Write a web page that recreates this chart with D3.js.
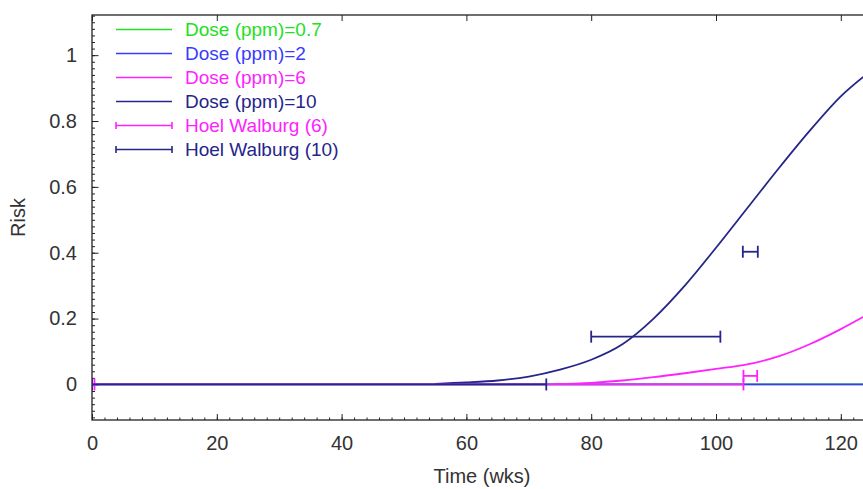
<!DOCTYPE html>
<html>
<head>
<meta charset="utf-8">
<script src="https://cdn.jsdelivr.net/npm/d3@7"></script>
<style>
  html, body { margin: 0; padding: 0; background: #fff; }
  svg { display: block; font-family: "Liberation Sans", Arial, sans-serif; }
</style>
</head>
<body>
<svg id="chart" width="863" height="489"></svg>
<script>
// ---------- data ----------
const xTicks = [0, 20, 40, 60, 80, 100, 120];
const yTicks = [0, 0.2, 0.4, 0.6, 0.8, 1];
const yTickLabels = ["0", "0.2", "0.4", "0.6", "0.8", "1"];

const seriesNames = ["Dose (ppm)=0.7", "Dose (ppm)=2", "Dose (ppm)=6", "Dose (ppm)=10"];

const weeks07 = [0, 125];
const risk07  = [0, 0];

const weeks2 = [0, 125];
const risk2  = [0, 0];

const weeks6 = [74, 80, 85, 90, 95, 100, 105, 110, 115, 120, 125];
const risk6  = [0.001, 0.005, 0.012, 0.022, 0.034, 0.047, 0.061, 0.085, 0.122, 0.168, 0.22];

const weeks10 = [55, 60, 65, 70, 75, 80, 85, 90, 95, 100, 105, 110, 115, 120, 125];
const risk10  = [0.002, 0.006, 0.012, 0.024, 0.045, 0.075, 0.122, 0.2, 0.3, 0.415, 0.535, 0.655, 0.77, 0.875, 0.955];

// Hoel Walburg interval estimates (risk level, lower week, upper week)
const hw6Name = "Hoel Walburg (6)";
const hw6Risk = [0, 0.026];
const hw6Lo   = [0.4, 104.4];
const hw6Hi   = [104.4, 106.6];

const hw10Name = "Hoel Walburg (10)";
const hw10Risk = [0, 0.145, 0.403];
const hw10Lo   = [0, 80, 104.3];
const hw10Hi   = [72.8, 100.7, 106.7];

// ---------- setup ----------
const colGreen = "#22e022", colBlue = "#3a3aff", colPink = "#ff22ff", colNavy = "#25258a";

const svg = d3.select("#chart");
const pLeft = 92, pTop = 15, pRight = 872, pBottom = 420;

const x = d3.scaleLinear().domain([0, 125]).range([pLeft, pRight]);
const y = d3.scaleLinear().domain([-0.108, 1.122]).range([pBottom, pTop]);

svg.append("rect").attr("width", 863).attr("height", 489).attr("fill", "#fff");

svg.append("defs").append("clipPath").attr("id", "plotclip")
  .append("rect").attr("x", pLeft).attr("y", pTop).attr("width", pRight - pLeft).attr("height", pBottom - pTop);

// ---------- axes ----------
const axisColor = "#222";
const textColor = "#333";

const xMinor = d3.range(0, 125, 2);
const yMinor = d3.range(-0.1, 1.121, 0.02);

svg.append("g").attr("transform", `translate(0,${pBottom})`)
  .call(d3.axisBottom(x).tickValues(xMinor).tickSize(-2.5).tickFormat(""))
  .call(g => g.select(".domain").remove())
  .call(g => g.selectAll("line").attr("stroke", axisColor));

svg.append("g").attr("transform", `translate(0,${pBottom})`)
  .call(d3.axisBottom(x).tickValues(xTicks).tickSize(-6).tickPadding(16).tickFormat(d3.format("d")))
  .call(g => g.select(".domain").remove())
  .call(g => g.selectAll("line").attr("stroke", axisColor))
  .call(g => g.selectAll("text").attr("fill", textColor).attr("font-size", 20)
      .attr("font-family", "'Liberation Sans', Arial, sans-serif"));

svg.append("g").attr("transform", `translate(0,${pTop})`)
  .call(d3.axisTop(x).tickValues(xTicks).tickSize(-6).tickFormat(""))
  .call(g => g.select(".domain").remove())
  .call(g => g.selectAll("line").attr("stroke", axisColor));

svg.append("g").attr("transform", `translate(${pLeft},0)`)
  .call(d3.axisLeft(y).tickValues(yMinor).tickSize(-3).tickFormat(""))
  .call(g => g.select(".domain").remove())
  .call(g => g.selectAll("line").attr("stroke", axisColor));

svg.append("g").attr("transform", `translate(${pLeft},0)`)
  .call(d3.axisLeft(y).tickValues(yTicks).tickSize(-6.5).tickPadding(15)
        .tickFormat((d, i) => yTickLabels[i]))
  .call(g => g.select(".domain").remove())
  .call(g => g.selectAll("line").attr("stroke", axisColor))
  .call(g => g.selectAll("text").attr("fill", textColor).attr("font-size", 20)
      .attr("font-family", "'Liberation Sans', Arial, sans-serif"));

// frame
svg.append("rect").attr("x", pLeft).attr("y", pTop)
  .attr("width", pRight - pLeft).attr("height", pBottom - pTop)
  .attr("fill", "none").attr("stroke", axisColor).attr("stroke-width", 1.3);

// axis titles
svg.append("text").attr("x", (pLeft + pRight) / 2).attr("y", 483)
  .attr("text-anchor", "middle").attr("font-size", 20).attr("fill", textColor)
  .text("Time (wks)");
svg.append("text").attr("transform", `translate(25,${(pTop + pBottom) / 2}) rotate(-90)`)
  .attr("text-anchor", "middle").attr("font-size", 20).attr("fill", textColor)
  .text("Risk");

// ---------- curves ----------
const plot = svg.append("g").attr("clip-path", "url(#plotclip)");
const line = d3.line().x(d => x(d[0])).y(d => y(d[1])).curve(d3.curveMonotoneX);

const curves = [
  { w: weeks07, r: risk07, c: colGreen },
  { w: weeks2,  r: risk2,  c: colBlue },
  { w: weeks6,  r: risk6,  c: colPink },
  { w: weeks10, r: risk10, c: colNavy }
];
curves.forEach(s => {
  plot.append("path").datum(d3.zip(s.w, s.r))
    .attr("d", line).attr("fill", "none")
    .attr("stroke", s.c).attr("stroke-width", 1.8);
});

// ---------- error bars ----------
function errBars(risk, lo, hi, color) {
  const g = plot.append("g").attr("stroke", color).attr("stroke-width", 1.8).attr("fill", "none");
  risk.forEach((r, i) => {
    const yy = y(r), x0 = x(lo[i]), x1 = x(hi[i]);
    g.append("line").attr("x1", x0).attr("x2", x1).attr("y1", yy).attr("y2", yy);
    g.append("line").attr("x1", x0).attr("x2", x0).attr("y1", yy - 6).attr("y2", yy + 6);
    g.append("line").attr("x1", x1).attr("x2", x1).attr("y1", yy - 6).attr("y2", yy + 6);
  });
}
errBars(hw6Risk, hw6Lo, hw6Hi, colPink);
errBars(hw10Risk, hw10Lo, hw10Hi, colNavy);

// ---------- legend ----------
const legendItems = [
  { name: seriesNames[0], c: colGreen, caps: false },
  { name: seriesNames[1], c: colBlue,  caps: false },
  { name: seriesNames[2], c: colPink,  caps: false },
  { name: seriesNames[3], c: colNavy,  caps: false },
  { name: hw6Name,        c: colPink,  caps: true },
  { name: hw10Name,       c: colNavy,  caps: true }
];
const lg = svg.append("g");
legendItems.forEach((it, i) => {
  const yy = 29.5 + i * 24;
  lg.append("line").attr("x1", 116).attr("x2", 172).attr("y1", yy).attr("y2", yy)
    .attr("stroke", it.c).attr("stroke-width", 1.6);
  if (it.caps) {
    [116, 172].forEach(cx => lg.append("line").attr("x1", cx).attr("x2", cx)
      .attr("y1", yy - 3.5).attr("y2", yy + 3.5).attr("stroke", it.c).attr("stroke-width", 1.6));
  }
  lg.append("text").attr("x", 185).attr("y", yy + 6.5)
    .attr("font-size", 19).attr("fill", it.c).text(it.name);
});
</script>
</body>
</html>
